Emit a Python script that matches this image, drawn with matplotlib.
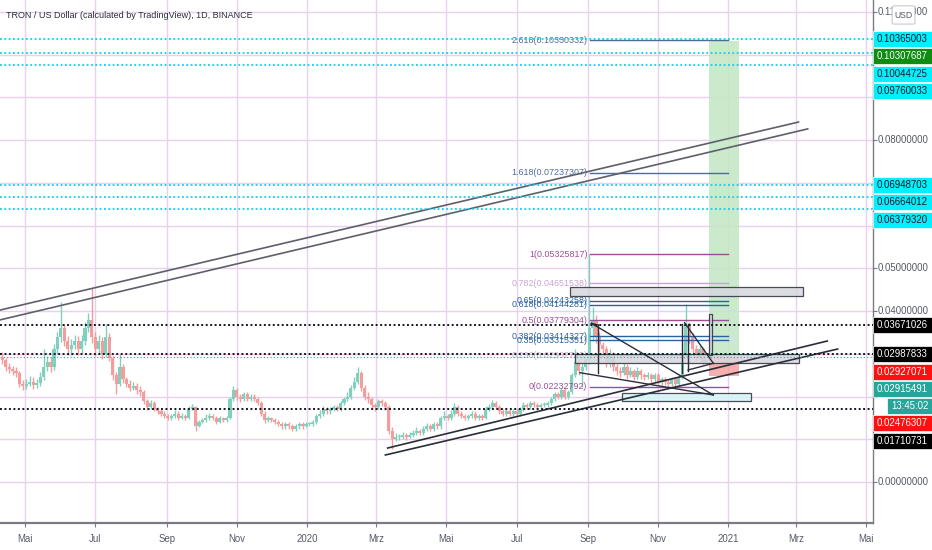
import datetime as dt
import matplotlib
matplotlib.use("Agg")
import matplotlib.pyplot as plt
import matplotlib.dates as mdates
from matplotlib.patches import Rectangle, FancyBboxPatch
from matplotlib import font_manager

# ---------------- data ----------------
TITLE = "TRON / US Dollar (calculated by TradingView), 1D, BINANCE"
first_candle = dt.date(2019, 4, 11)
candle_step_days = 3
first_open = 0.029

closes = [
    0.0285, 0.027, 0.0265, 0.026, 0.0255, 0.023, 0.0225, 0.023, 0.0235, 0.0228,
    0.0232, 0.0245, 0.027, 0.028, 0.027, 0.031, 0.034, 0.036, 0.033, 0.031,
    0.032, 0.033, 0.031, 0.033, 0.036, 0.038, 0.034, 0.031, 0.033, 0.030,
    0.034, 0.029, 0.025, 0.023, 0.027, 0.024, 0.023, 0.022, 0.0225, 0.0215,
    0.021, 0.019, 0.0175, 0.0185, 0.017, 0.0165, 0.016, 0.0155, 0.015, 0.0155,
    0.016, 0.015, 0.0155, 0.015, 0.017, 0.0175, 0.013, 0.014, 0.0145, 0.015,
    0.0155, 0.015, 0.014, 0.015, 0.0145, 0.015, 0.0195, 0.0215, 0.020, 0.0195,
    0.0205, 0.0195, 0.020, 0.0195, 0.0185, 0.016, 0.0145, 0.015, 0.0145, 0.014,
    0.0135, 0.013, 0.0135, 0.013, 0.0125, 0.013, 0.0135, 0.013, 0.0135, 0.0135,
    0.014, 0.0155, 0.016, 0.017, 0.0165, 0.017, 0.0175, 0.017, 0.0185, 0.0195,
    0.020, 0.022, 0.0235, 0.0255, 0.022, 0.020, 0.0195, 0.018, 0.0175, 0.019,
    0.0185, 0.0175, 0.012, 0.010, 0.0105, 0.0105, 0.011, 0.0105, 0.011, 0.0115,
    0.012, 0.0115, 0.0125, 0.013, 0.0125, 0.0135, 0.013, 0.015, 0.0155, 0.015,
    0.016, 0.0175, 0.016, 0.0155, 0.015, 0.0155, 0.016, 0.015, 0.0155, 0.015,
    0.017, 0.0175, 0.0185, 0.0175, 0.0165, 0.016, 0.0165, 0.016, 0.0165, 0.016,
    0.017, 0.018, 0.0175, 0.0185, 0.018, 0.0175, 0.018, 0.018, 0.0185, 0.0195,
    0.0205, 0.020, 0.0215, 0.020, 0.021, 0.025, 0.028, 0.026, 0.027, 0.0285,
    0.036, 0.038, 0.034, 0.032, 0.031, 0.028, 0.030, 0.027, 0.026, 0.0255,
    0.027, 0.025, 0.026, 0.0245, 0.026, 0.025, 0.0245, 0.025, 0.024, 0.025,
    0.0235, 0.024, 0.0235, 0.023, 0.024, 0.023, 0.0245, 0.030, 0.037, 0.034,
    0.031, 0.029, 0.031, 0.028, 0.0285, 0.02915,
]
highs = [
    0.0305, 0.029, 0.0278, 0.0272, 0.0268, 0.026, 0.0238, 0.0242, 0.0248, 0.0245,
    0.0242, 0.0258, 0.031, 0.0295, 0.0292, 0.0322, 0.0352, 0.042, 0.037, 0.0342,
    0.0335, 0.0345, 0.0342, 0.0345, 0.0375, 0.0395, 0.0454, 0.0352, 0.0345, 0.034,
    0.037, 0.0348, 0.0295, 0.0258, 0.030, 0.0275, 0.0245, 0.0238, 0.0235, 0.0232,
    0.0225, 0.0215, 0.0195, 0.0192, 0.019, 0.0175, 0.017, 0.0165, 0.016, 0.016,
    0.0168, 0.0165, 0.0162, 0.016, 0.0178, 0.0182, 0.0178, 0.0145, 0.015, 0.0158,
    0.0162, 0.016, 0.0155, 0.0155, 0.0152, 0.0155, 0.020, 0.0225, 0.022, 0.0205,
    0.021, 0.021, 0.0205, 0.0205, 0.020, 0.019, 0.0165, 0.0155, 0.0152, 0.015,
    0.0145, 0.014, 0.014, 0.014, 0.0135, 0.0135, 0.014, 0.014, 0.014, 0.014,
    0.0145, 0.016, 0.0168, 0.0178, 0.0175, 0.0175, 0.018, 0.018, 0.019, 0.020,
    0.021, 0.0228, 0.0245, 0.027, 0.026, 0.0228, 0.021, 0.020, 0.0185, 0.0195,
    0.0195, 0.019, 0.018, 0.0128, 0.0115, 0.0112, 0.0118, 0.0115, 0.0118, 0.0122,
    0.0128, 0.0125, 0.013, 0.0138, 0.0135, 0.014, 0.014, 0.0155, 0.0165, 0.016,
    0.0168, 0.0185, 0.018, 0.0165, 0.016, 0.016, 0.0165, 0.0165, 0.016, 0.016,
    0.0178, 0.0182, 0.0192, 0.019, 0.018, 0.017, 0.017, 0.017, 0.017, 0.017,
    0.0175, 0.0188, 0.0185, 0.019, 0.019, 0.0185, 0.0185, 0.0188, 0.019, 0.020,
    0.021, 0.021, 0.022, 0.022, 0.0215, 0.0255, 0.031, 0.0285, 0.0278, 0.029,
    0.0533, 0.041, 0.039, 0.035, 0.0328, 0.0318, 0.031, 0.0305, 0.0275, 0.027,
    0.0278, 0.0275, 0.0268, 0.0265, 0.0268, 0.0265, 0.0255, 0.0258, 0.0255, 0.0255,
    0.0255, 0.0245, 0.0245, 0.024, 0.0245, 0.0245, 0.025, 0.031, 0.0416, 0.0375,
    0.0348, 0.032, 0.0318, 0.0315, 0.0295, 0.0298,
]
lows = [
    0.0275, 0.026, 0.0255, 0.025, 0.0245, 0.0222, 0.0215, 0.0218, 0.0225, 0.0218,
    0.022, 0.0225, 0.0238, 0.026, 0.0258, 0.0262, 0.030, 0.0328, 0.0318, 0.0298,
    0.0298, 0.031, 0.0298, 0.0302, 0.032, 0.035, 0.0325, 0.0295, 0.030, 0.0288,
    0.0292, 0.0282, 0.0238, 0.0205, 0.0225, 0.0232, 0.0222, 0.0212, 0.0215, 0.0205,
    0.0202, 0.0182, 0.0168, 0.017, 0.0165, 0.016, 0.0155, 0.015, 0.0145, 0.0145,
    0.015, 0.0145, 0.0148, 0.0145, 0.0148, 0.0168, 0.012, 0.0128, 0.0138, 0.014,
    0.0145, 0.0145, 0.0135, 0.0138, 0.014, 0.014, 0.0148, 0.019, 0.0192, 0.0188,
    0.019, 0.019, 0.019, 0.019, 0.018, 0.0155, 0.0138, 0.014, 0.014, 0.0135,
    0.013, 0.0125, 0.0125, 0.0125, 0.012, 0.012, 0.0125, 0.0125, 0.0128, 0.013,
    0.013, 0.0135, 0.015, 0.0155, 0.016, 0.016, 0.0165, 0.0165, 0.0165, 0.018,
    0.019, 0.0195, 0.0215, 0.023, 0.0212, 0.0192, 0.0185, 0.0172, 0.0165, 0.017,
    0.0178, 0.0168, 0.0112, 0.0078, 0.0095, 0.0098, 0.010, 0.0098, 0.0102, 0.0105,
    0.011, 0.011, 0.011, 0.012, 0.012, 0.012, 0.0125, 0.0125, 0.0145, 0.0145,
    0.0145, 0.0155, 0.0155, 0.015, 0.0145, 0.0145, 0.015, 0.0145, 0.0145, 0.0145,
    0.0148, 0.0165, 0.017, 0.017, 0.016, 0.0155, 0.0155, 0.0155, 0.0155, 0.0155,
    0.0155, 0.0165, 0.017, 0.017, 0.0175, 0.017, 0.017, 0.0175, 0.0175, 0.018,
    0.019, 0.0195, 0.0195, 0.0195, 0.0195, 0.0205, 0.0245, 0.025, 0.0223, 0.0262,
    0.0275, 0.033, 0.0325, 0.0305, 0.029, 0.0268, 0.027, 0.026, 0.025, 0.0245,
    0.025, 0.0242, 0.0245, 0.0238, 0.024, 0.0242, 0.0238, 0.024, 0.0232, 0.0235,
    0.023, 0.0228, 0.0228, 0.0225, 0.0225, 0.0225, 0.0225, 0.024, 0.029, 0.0325,
    0.030, 0.0282, 0.0285, 0.0275, 0.0278, 0.0285,
]

# horizontal levels
black_levels = [0.03671026, 0.02987833, 0.01710731]
cyan_levels = [0.10365003, 0.10044725, 0.09760033, 0.06948703, 0.06664012, 0.06379320]
last_price = 0.02915491
countdown_text = "13:45:02"

# long position tool
pos_entry, pos_target, pos_stop = 0.02927071, 0.10307687, 0.02476307
pos_start, pos_end = dt.date(2020, 12, 15), dt.date(2021, 1, 10)

# fibonacci
fib_start, fib_end = dt.date(2020, 9, 3), dt.date(2021, 1, 1)
fib_names = ["0", "0.236", "0.35", "0.382", "0.5", "0.618", "0.65", "0.782", "1", "1.618", "2.618"]
fib_prices = [0.02232792, 0.02962746, 0.03315351, 0.03414327, 0.03779304, 0.04144281,
              0.04243258, 0.04651538, 0.05325817, 0.07237307, 0.10330332]
fib_colors = ["#9c4f96", "#c0b4c4", "#2962a0", "#2962a0", "#9c4f96", "#2962a0",
              "#2962a0", "#c9a2d4", "#9c4f96", "#4b6e99", "#4b6e99"]

# trend lines: (date, price) pairs
upper_channel = [
    ((dt.date(2019, 4, 1), 0.0397), (dt.date(2021, 3, 3), 0.0842)),
    ((dt.date(2019, 4, 1), 0.0374), (dt.date(2021, 3, 11), 0.0826)),
]
lower_channel = [
    ((dt.date(2020, 3, 11), 0.00795), (dt.date(2021, 3, 28), 0.03298)),
    ((dt.date(2020, 3, 9), 0.00632), (dt.date(2021, 4, 6), 0.03111)),
]
triangle_lines = [
    ((dt.date(2020, 9, 4), 0.03712), (dt.date(2020, 12, 19), 0.02035)),
    ((dt.date(2020, 8, 25), 0.02557), (dt.date(2020, 12, 19), 0.02035)),
    ((dt.date(2020, 9, 4), 0.03712), (dt.date(2020, 9, 10), 0.03670)),
    ((dt.date(2020, 9, 10), 0.03670), (dt.date(2020, 9, 10), 0.02545)),
    ((dt.date(2020, 11, 24), 0.03726), (dt.date(2020, 12, 19), 0.02777)),
    ((dt.date(2020, 11, 22), 0.03700), (dt.date(2020, 11, 22), 0.02550)),
    ((dt.date(2020, 11, 27), 0.03700), (dt.date(2020, 11, 27), 0.02600)),
    ((dt.date(2020, 11, 27), 0.02620), (dt.date(2020, 12, 19), 0.02777)),
]
# boxes: (start date, end date, low price, high price, face colour)
boxes = [
    (dt.date(2020, 8, 16), dt.date(2021, 3, 7), 0.0435, 0.0457, "#d6d8de"),
    (dt.date(2020, 8, 21), dt.date(2021, 3, 3), 0.02784, 0.02994, "#d6d8de"),
    (dt.date(2020, 10, 1), dt.date(2021, 1, 21), 0.01895, 0.02082, "#d4f5f6"),
    (dt.date(2020, 12, 15), dt.date(2020, 12, 18), 0.0297, 0.0393, "#d6d8de"),
]

month_ticks = [dt.date(2019, 5, 1), dt.date(2019, 7, 1), dt.date(2019, 9, 1), dt.date(2019, 11, 1),
               dt.date(2020, 1, 1), dt.date(2020, 3, 1), dt.date(2020, 5, 1), dt.date(2020, 7, 1),
               dt.date(2020, 9, 1), dt.date(2020, 11, 1), dt.date(2021, 1, 1), dt.date(2021, 3, 1),
               dt.date(2021, 5, 1)]
month_labels = ["Mai", "Jul", "Sep", "Nov", "2020", "Mrz", "Mai", "Jul", "Sep", "Nov", "2021", "Mrz", "Mai"]
grid_prices = [0.00, 0.01, 0.02, 0.03, 0.04, 0.05, 0.06, 0.07, 0.08, 0.09, 0.10, 0.11]
plain_axis_labels = [0.11, 0.08, 0.05, 0.04, 0.00]

x_view = (dt.date(2019, 4, 9), dt.date(2021, 5, 6))
y_view = (-0.00959, 0.11275)

# ---------------- style ----------------
W, H = 932, 550
names = {f.name for f in font_manager.fontManager.ttflist}
fam = [f for f in ["Liberation Sans Narrow", "Liberation Sans", "DejaVu Sans"] if f in names]
plt.rcParams["font.family"] = fam
UP, DOWN = "#80d0be", "#f59c9c"
GRID = "#ead0ef"
INK = "#2a2e39"
AXIS_FS = 6.9

fig = plt.figure(figsize=(W / 100, H / 100), dpi=100)
fig.patch.set_facecolor("white")
ax = fig.add_axes([0, 27 / H, 872.5 / W, 523 / H])
ax.set_facecolor("white")

d2n = lambda d: mdates.date2num(d)
ax.set_xlim(d2n(x_view[0]) + 0.1, d2n(x_view[1]) + 0.3)
ax.set_ylim(*y_view)

# grid
for g in grid_prices:
    ax.axhline(g, color=GRID, lw=1.0, zorder=0)
for t in month_ticks:
    ax.axvline(d2n(t), color=GRID, lw=1.0, zorder=0)

# candles
xs = [d2n(first_candle + dt.timedelta(days=candle_step_days * i)) for i in range(len(closes))]
opens = [first_open] + closes[:-1]
for x, o, c, h, l in zip(xs, opens, closes, highs, lows):
    col = UP if c >= o else DOWN
    ax.vlines(x, min(l, o, c), max(h, o, c), color=col, lw=1.0, zorder=2)
    ax.bar(x, max(abs(c - o), 0.0002), bottom=min(o, c), width=2.7, color=col,
           edgecolor="none", zorder=2.1)

# long position
ax.add_patch(Rectangle((d2n(pos_start), pos_entry), d2n(pos_end) - d2n(pos_start),
                       pos_target - pos_entry, facecolor="#c6e7c6", edgecolor="none", zorder=1.5, alpha=0.9))
ax.add_patch(Rectangle((d2n(pos_start), pos_stop), d2n(pos_end) - d2n(pos_start),
                       pos_entry - pos_stop, facecolor="#f6a0a0", edgecolor="none", zorder=2.5, alpha=0.85))

# fib
for name, p, col in zip(fib_names, fib_prices, fib_colors):
    ax.plot([d2n(fib_start), d2n(fib_end)], [p, p], color=col, lw=1.0, zorder=3)
    ax.annotate(f"{name}({p:.8f})", (d2n(fib_start), p), xytext=(-2, 0), textcoords="offset points",
                ha="right", va="center", fontsize=6.4, color=col, zorder=3)

# boxes
for s, e, lo, hi, fc in boxes:
    ax.add_patch(Rectangle((d2n(s), lo), d2n(e) - d2n(s), hi - lo, facecolor=fc,
                           edgecolor=INK, lw=0.9, zorder=3.2, alpha=0.85))

# lines
for (a, b) in upper_channel:
    ax.plot([d2n(a[0]), d2n(b[0])], [a[1], b[1]], color="#5d606b", lw=1.2, zorder=3)
for (a, b) in lower_channel:
    ax.plot([d2n(a[0]), d2n(b[0])], [a[1], b[1]], color=INK, lw=1.2, zorder=3.5)
for (a, b) in triangle_lines:
    ax.plot([d2n(a[0]), d2n(b[0])], [a[1], b[1]], color=INK, lw=1.0, zorder=3.5)

# horizontal dotted levels
for v in black_levels:
    ax.axhline(v, color="#131722", lw=1.4, linestyle=(0, (1, 1.3)), zorder=4)
for v in cyan_levels:
    ax.axhline(v, color="#00d8ea", lw=1.3, linestyle=(0, (1, 1.4)), zorder=4)
ax.axhline(last_price, color="#26a69a", lw=0.8, linestyle=(0, (1, 2)), zorder=4)

# axes styling
for s in ["top", "left"]:
    ax.spines[s].set_visible(False)
ax.spines["bottom"].set_color("#787b86")
ax.spines["bottom"].set_linewidth(1.6)
ax.spines["right"].set_color("#787b86")
ax.spines["right"].set_linewidth(1.0)
ax.set_xticks([d2n(t) for t in month_ticks])
ax.set_xticklabels(month_labels)
ax.tick_params(axis="x", length=3, color="#787b86", labelsize=AXIS_FS, labelcolor="#555a66", pad=5)
ax.yaxis.tick_right()
ax.set_yticks(grid_prices)
ax.set_yticklabels([])
ax.tick_params(axis="y", length=3, color="#787b86")

# title
fig.text(6 / W, 1 - 16 / H, TITLE, fontsize=6.5, color="#2a2e39", va="center", ha="left")

# price scale labels
fig.canvas.draw()
def py_of(v):
    return H - ax.transData.transform((ax.get_xlim()[0], v))[1]

for v in plain_axis_labels:
    fig.text(878 / W, 1 - py_of(v) / H, f"{v:.8f}", fontsize=AXIS_FS, color="#555a66", va="center")

tags = [(v, "#00f0ff", "#131722") for v in cyan_levels]
tags += [(v, "#000000", "white") for v in black_levels]
tags += [(pos_target, "#0f8c12", "white"), (pos_entry, "#ff1010", "white"),
         (pos_stop, "#ff1010", "white"), (last_price, "#26a69a", "white")]
tags.sort(key=lambda t: -t[0])
step = 17.3
prev = -100
for v, bg, fg in tags:
    y = max(py_of(v), prev + step)
    prev = y
    fig.patches.append(Rectangle((872.5 / W, 1 - (y + 8) / H), 60 / W, 16 / H, transform=fig.transFigure,
                                 facecolor=bg, edgecolor="white", lw=0.5, zorder=5))
    fig.text(877 / W, 1 - y / H, f"{v:.8f}", fontsize=AXIS_FS, color=fg, va="center", zorder=6)
    if v == last_price:
        y2 = y + step
        fig.patches.append(Rectangle((886.5 / W, 1 - (y2 + 8) / H), 46 / W, 16 / H, transform=fig.transFigure,
                                     facecolor=bg, edgecolor="white", lw=0.5, zorder=5))
        fig.text(891 / W, 1 - y2 / H, countdown_text, fontsize=AXIS_FS, color=fg, va="center", zorder=6)
        prev = y2

# USD badge
fig.patches.append(FancyBboxPatch((894 / W, 1 - 23 / H), 19 / W, 16 / H, boxstyle="round,pad=0.002",
                                  transform=fig.transFigure, facecolor="white", edgecolor="#c8cad0",
                                  lw=0.8, zorder=5))
fig.text(903.5 / W, 1 - 15 / H, "USD", fontsize=6.2, color="#555a66", ha="center", va="center", zorder=6)

fig.savefig("out.png", dpi=100)
